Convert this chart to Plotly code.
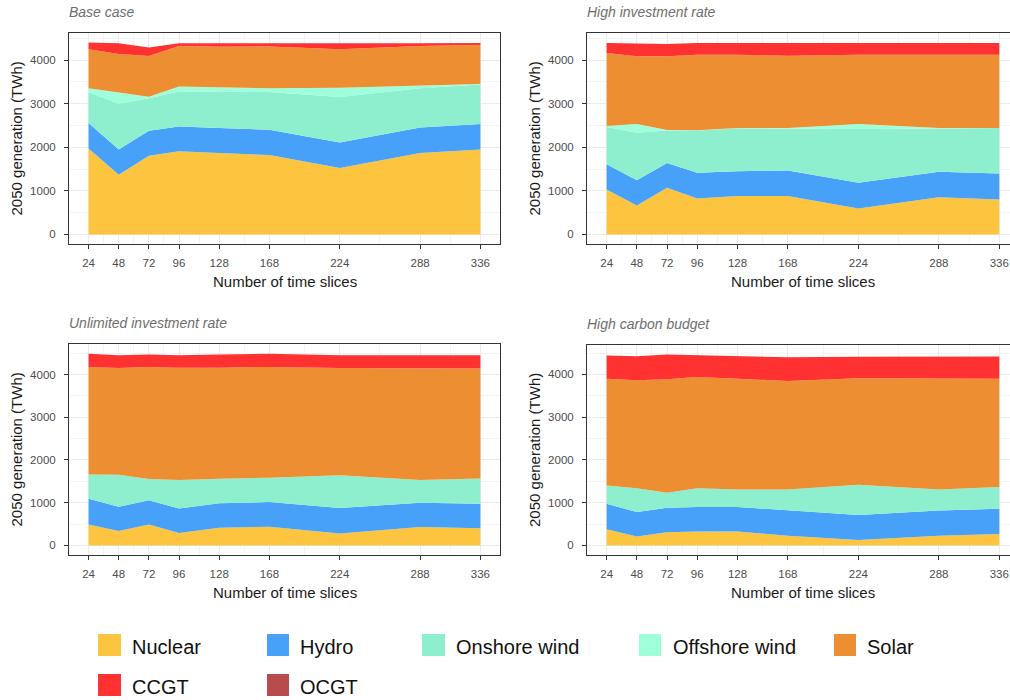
import plotly.graph_objects as go

# ---------------- data ----------------
time_slices = [24, 48, 72, 96, 128, 168, 224, 288, 336]
technologies = ["Nuclear", "Hydro", "Onshore wind", "Offshore wind", "Solar", "CCGT", "OCGT"]
tech_colors = ["#FCC43F", "#48A1F9", "#8EEFCF", "#9EFFDB", "#EE8E33", "#FF3131", "#B84C4C"]
scenario_titles = ["Base case", "High investment rate", "Unlimited investment rate", "High carbon budget"]

base_nuclear = [1970, 1370, 1805, 1905, 1870, 1820, 1525, 1865, 1945]
base_hydro = [585, 575, 570, 570, 570, 580, 585, 585, 585]
base_onshore = [705, 1050, 750, 801, 836, 865, 1040, 900, 910]
base_offshore = [90, 265, 35, 114, 94, 90, 215, 60, 10]
base_solar = [900, 877, 930, 930, 935, 955, 885, 910, 893]
base_ccgt = [150, 248, 195, 65, 80, 75, 120, 65, 47]
base_ocgt = [0, 0, 0, 0, 0, 0, 0, 0, 0]

hi_nuclear = [1030, 665, 1070, 825, 880, 880, 595, 855, 800]
hi_hydro = [580, 575, 570, 590, 570, 585, 590, 580, 595]
hi_onshore = [855, 1090, 745, 970, 985, 965, 1235, 995, 1045]
hi_offshore = [20, 205, 10, 5, 5, 10, 115, 10, 0]
hi_solar = [1675, 1550, 1690, 1730, 1680, 1660, 1585, 1680, 1680]
hi_ccgt = [230, 300, 280, 270, 270, 290, 270, 270, 270]
hi_ocgt = [0, 0, 0, 0, 0, 0, 0, 0, 0]

un_nuclear = [490, 335, 490, 290, 415, 435, 280, 430, 400]
un_hydro = [600, 570, 565, 575, 570, 580, 595, 570, 575]
un_onshore = [570, 750, 500, 665, 575, 570, 770, 530, 590]
un_offshore = [0, 0, 0, 0, 0, 0, 0, 0, 0]
un_solar = [2520, 2500, 2620, 2630, 2600, 2595, 2510, 2610, 2575]
un_ccgt = [310, 295, 295, 290, 310, 305, 295, 310, 310]
un_ocgt = [0, 0, 0, 0, 0, 0, 0, 0, 0]

hc_nuclear = [380, 210, 310, 325, 325, 230, 130, 230, 270]
hc_hydro = [595, 570, 570, 575, 575, 590, 580, 590, 590]
hc_onshore = [425, 560, 350, 435, 410, 490, 710, 490, 505]
hc_offshore = [0, 0, 0, 0, 0, 0, 0, 0, 0]
hc_solar = [2500, 2520, 2655, 2605, 2590, 2535, 2490, 2590, 2535]
hc_ccgt = [540, 565, 580, 505, 525, 555, 505, 525, 520]
hc_ocgt = [0, 0, 0, 0, 0, 0, 0, 0, 0]

x_minor = [36, 60, 84, 112, 148, 196, 256, 312]
y_ticks = [0, 1000, 2000, 3000, 4000]
y_minor = [500, 1500, 2500, 3500, 4500]

scenarios = [
    [base_nuclear, base_hydro, base_onshore, base_offshore, base_solar, base_ccgt, base_ocgt],
    [hi_nuclear, hi_hydro, hi_onshore, hi_offshore, hi_solar, hi_ccgt, hi_ocgt],
    [un_nuclear, un_hydro, un_onshore, un_offshore, un_solar, un_ccgt, un_ocgt],
    [hc_nuclear, hc_hydro, hc_onshore, hc_offshore, hc_solar, hc_ccgt, hc_ocgt],
]

# ---------------- layout geometry (pixels) ----------------
W, H = 1010, 700
# panel: (left, right, top, bottom, xrange, yrange)
panels = [
    (69, 500, 33, 244, [8.4, 351.6], [-220, 4620]),
    (587, 1010, 33, 244, [8.4, 344.5], [-220, 4620]),
    (69, 500, 344, 555, [8.4, 351.6], [-225, 4716]),
    (587, 1010, 345, 555, [8.4, 344.5], [-223, 4687]),
]

fig = go.Figure()
layout = dict(
    width=W, height=H,
    margin=dict(l=0, r=0, t=0, b=0),
    paper_bgcolor="white", plot_bgcolor="white",
    showlegend=False,
    font=dict(family="Liberation Sans, Arial, sans-serif", color="#333333"),
)

annotations = []
shapes = []

for i, (series, title, pan) in enumerate(zip(scenarios, scenario_titles, panels)):
    l, r, t, b, xr, yr = pan
    sfx = "" if i == 0 else str(i + 1)
    xa, ya = "x" + sfx, "y" + sfx
    for tech, col, vals in zip(technologies, tech_colors, series):
        fig.add_trace(go.Scatter(
            x=time_slices, y=vals, name=tech, xaxis=xa, yaxis=ya,
            stackgroup="s%d" % i, mode="lines", line=dict(width=0, color=col),
            fillcolor=col, showlegend=False,
        ))
    axcommon = dict(
        showline=True, mirror=True, linecolor="#333333", linewidth=1,
        ticks="outside", ticklen=4, tickcolor="#333333", tickwidth=1,
        showgrid=True, gridcolor="#EBEBEB", gridwidth=1,
        zeroline=False,
        tickfont=dict(size=11.5, color="#4D4D4D"),
    )
    layout["xaxis" + sfx] = dict(
        axcommon, domain=[l / W, r / W], range=xr, anchor=ya,
        tickmode="array", tickvals=time_slices, ticktext=[str(v) for v in time_slices],
        minor=dict(tickmode="array", tickvals=x_minor, showgrid=True, gridcolor="#F4F4F4", gridwidth=1, ticks=""),
        ticklabelstandoff=4,
    )
    layout["yaxis" + sfx] = dict(
        axcommon, domain=[1 - b / H, 1 - t / H], range=yr, anchor=xa,
        tickmode="array", tickvals=y_ticks,
        minor=dict(tickmode="array", tickvals=y_minor, showgrid=True, gridcolor="#F4F4F4", gridwidth=1, ticks=""),
        ticklabelstandoff=6,
    )
    # subplot title
    annotations.append(dict(
        text="<i>" + title + "</i>", xref="paper", yref="paper",
        x=(l - 2) / W, y=1 - (t - 21) / H, xanchor="left", yanchor="middle",
        showarrow=False, font=dict(size=14, color="#6E6E6E"),
    ))
    # x axis title
    cx = (l + (1019 if r == 1010 else r)) / 2
    annotations.append(dict(
        text="Number of time slices", xref="paper", yref="paper",
        x=cx / W, y=1 - (b + 37.5) / H, xanchor="center", yanchor="middle",
        showarrow=False, font=dict(size=15, color="#1A1A1A"),
    ))
    # y axis title
    annotations.append(dict(
        text="2050 generation (TWh)", xref="paper", yref="paper",
        x=(l - 53) / W, y=1 - ((t + b) / 2) / H, xanchor="center", yanchor="middle",
        textangle=-90, showarrow=False, font=dict(size=15, color="#1A1A1A"),
    ))

# ---------------- custom legend ----------------
legend_items = [
    (98, 121, 132, 645),
    (267, 289, 300, 645),
    (422, 445, 456, 645),
    (639, 661, 673, 645),
    (834, 856, 867, 645),
    (98, 121, 132, 685),
    (267, 289, 300, 685),
]
for tech, col, (sx0, sx1, tx, cy) in zip(technologies, tech_colors, legend_items):
    shapes.append(dict(
        type="rect", xref="paper", yref="paper",
        x0=sx0 / W, x1=sx1 / W, y0=1 - (cy + 11) / H, y1=1 - (cy - 11) / H,
        fillcolor=col, line=dict(width=0),
    ))
    annotations.append(dict(
        text=tech, xref="paper", yref="paper", x=(tx - 2) / W, y=1 - (cy + 2) / H,
        xanchor="left", yanchor="middle", showarrow=False,
        font=dict(size=20, color="#111111"),
    ))

layout["annotations"] = annotations
layout["shapes"] = shapes
fig.update_layout(**layout)
fig.write_html(
    "out.html",
    config={"displayModeBar": False},
    post_script="document.body.style.margin='0';document.body.style.overflow='hidden';",
)
